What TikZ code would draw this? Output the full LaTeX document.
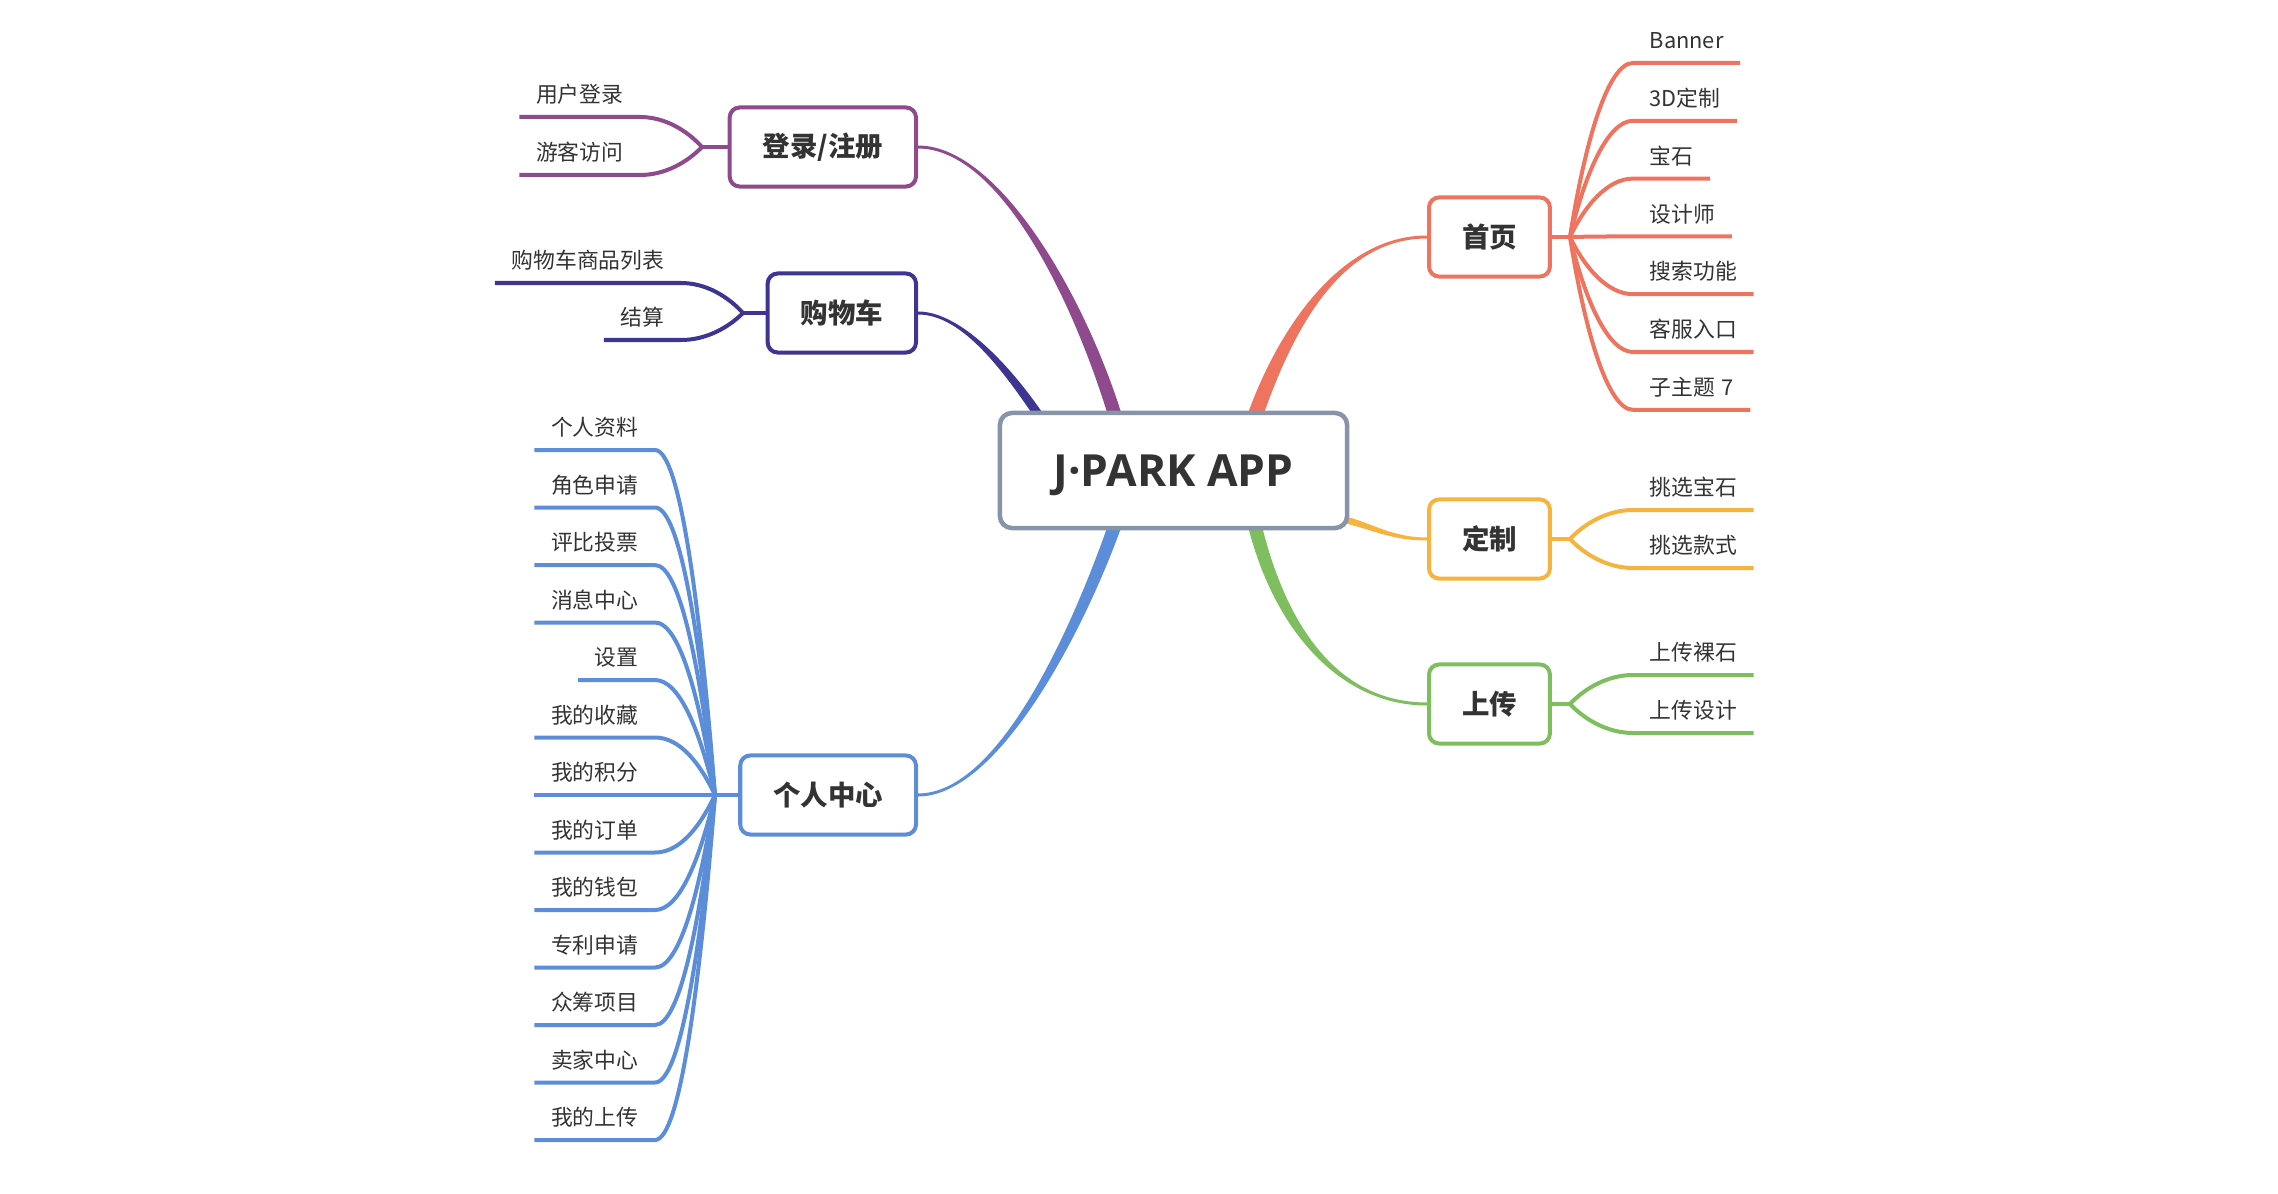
\documentclass[tikz,border=0pt]{standalone}
\usepackage{fontspec}
\setmainfont{Open Sans}
\newfontfamily\cjk{Noto Sans CJK SC}
\usetikzlibrary{calc,backgrounds}
\definecolor{cLogin}{RGB}{142,74,140}
\definecolor{cCart}{RGB}{62,52,146}
\definecolor{cHome}{RGB}{239,116,95}
\definecolor{cCustom}{RGB}{246,179,62}
\definecolor{cUpload}{RGB}{126,190,95}
\definecolor{cUser}{RGB}{92,141,216}
\definecolor{cRoot}{RGB}{135,147,168}
\definecolor{cText}{RGB}{51,51,51}
\tikzset{
  topic/.style={draw, fill=white, line width=0.04cm, rounded corners=0.1cm, inner xsep=0.33cm, minimum height=0.79cm, text=cText, font=\cjk\bfseries\fontsize{7.8pt}{9pt}\selectfont},
  leaf/.style={inner xsep=0.16cm, inner ysep=0.065cm, text height=0.8em, text depth=0.2em, text=cText, font=\cjk\fontsize{6.2pt}{7pt}\selectfont},
  twig/.style={line width=0.04cm}
}
% tapered main branch: colour, start, control 1, control 2, end, start offset, end offset
\newcommand{\mainbranch}[7]{\fill[#1] ($#2+#6$) .. controls ($#3+#6$) and ($#4+#7$) .. ($#5+#7$) -- ($#5-#7$) .. controls ($#4-#7$) and ($#3-#6$) .. ($#2-#6$) -- cycle;}

\begin{document}
\begin{tikzpicture}[x=0.01cm, y=-0.01cm]
\useasboundingbox (0,0) rectangle (2278,1194);

\node[draw=cRoot, fill=white, line width=0.045cm, rounded corners=0.12cm, minimum width=3.47cm, minimum height=1.15cm, text=cText, text depth=0pt, font=\bfseries\fontsize{12.6pt}{15pt}\selectfont] (root) at (1173.5,470.5) {J·PARK APP};

\node[topic, draw=cLogin, anchor=east] (login) at (918,147) {登录/注册};
\node[topic, draw=cCart, anchor=east] (cart) at (918,313) {购物车};
\node[topic, draw=cUser, anchor=east] (user) at (918,795) {个人中心};
\node[topic, draw=cHome, anchor=west] (home) at (1427,237) {首页};
\node[topic, draw=cCustom, anchor=west] (custom) at (1427,539) {定制};
\node[topic, draw=cUpload, anchor=west] (upload) at (1427,704) {上传};

\coordinate (loginfork) at (702,147);
\coordinate (cartfork) at (743,313);
\coordinate (userfork) at (715,795);
\coordinate (homefork) at (1570,237);
\coordinate (customfork) at (1570,539);
\coordinate (uploadfork) at (1570,704);

\draw[twig, cLogin] (login.west) -- (loginfork);
\draw[twig, cCart] (cart.west) -- (cartfork);
\draw[twig, cUser] (user.west) -- (userfork);
\draw[twig, cHome] (home.east) -- (homefork);
\draw[twig, cCustom] (custom.east) -- (customfork);
\draw[twig, cUpload] (upload.east) -- (uploadfork);

\foreach \txt/\ly [count=\i] in {用户登录/117, 游客访问/175}
  {
    \node[leaf, anchor=south east] (login\i) at (640,\ly) {\txt};
    \draw[twig, cLogin] (login\i.south west) -- (login\i.south east) .. controls +(25,0) and +(-15,{0.55*(\ly-147)}) .. (loginfork);
  }

\foreach \txt/\ly [count=\i] in {购物车商品列表/283, 结算/340}
  {
    \node[leaf, anchor=south east] (cart\i) at (681,\ly) {\txt};
    \draw[twig, cCart] (cart\i.south west) -- (cart\i.south east) .. controls +(25,0) and +(-15,{0.55*(\ly-313)}) .. (cartfork);
  }

\foreach \txt [count=\i from 0] in {个人资料, 角色申请, 评比投票, 消息中心, 设置, 我的收藏, 我的积分, 我的订单, 我的钱包, 专利申请, 众筹项目, 卖家中心, 我的上传}
  {
    \pgfmathsetmacro\ly{450+57.5*\i}
    \node[leaf, anchor=south east] (user\i) at (655,\ly) {\txt};
    \draw[twig, cUser] (user\i.south west) -- (user\i.south east) .. controls +(25,0) and +(-15,{0.55*(\ly-795)}) .. (userfork);
  }

\foreach \txt [count=\i from 0] in {Banner, 3D定制, 宝石, 设计师, 搜索功能, 客服入口, 子主题\hspace{0.3em}7}
  {
    \pgfmathsetmacro\ly{63+57.8*\i}
    \node[leaf, anchor=south west] (home\i) at (1633,\ly) {\txt};
    \draw[twig, cHome] (homefork) .. controls +(15,{0.55*(\ly-237)}) and +(-25,0) .. (home\i.south west) -- (home\i.south east);
  }

\foreach \txt/\ly [count=\i] in {挑选宝石/510, 挑选款式/568}
  {
    \node[leaf, anchor=south west] (custom\i) at (1633,\ly) {\txt};
    \draw[twig, cCustom] (customfork) .. controls +(15,{0.55*(\ly-539)}) and +(-25,0) .. (custom\i.south west) -- (custom\i.south east);
  }

\foreach \txt/\ly [count=\i] in {上传裸石/675, 上传设计/733}
  {
    \node[leaf, anchor=south west] (upload\i) at (1633,\ly) {\txt};
    \draw[twig, cUpload] (uploadfork) .. controls +(15,{0.55*(\ly-704)}) and +(-25,0) .. (upload\i.south west) -- (upload\i.south east);
  }

\coordinate (loginend) at ($(root.north)+(-57.5,8)$);
\coordinate (cartend) at ($(root.north)+(-132.5,8)$);
\coordinate (homeend) at ($(root.north)+(80.5,8)$);
\coordinate (customend) at ($(root.east)+(-8,48.5)$);
\coordinate (uploadend) at ($(root.south)+(80.5,-8)$);
\coordinate (userend) at ($(root.south)+(-57.5,-8)$);

\begin{scope}[on background layer]
\mainbranch{cLogin}{(login.east)}{(1000,147)}{(1080,300)}{(loginend)}{(0,-1.5)}{(7,0)}
\mainbranch{cCart}{(cart.east)}{(960,313)}{(1005,365)}{(cartend)}{(0,-1.5)}{(5.5,0)}
\mainbranch{cHome}{(home.west)}{(1340,237)}{(1285,330)}{(homeend)}{(0,-1.5)}{(-8,0)}
\mainbranch{cCustom}{(custom.west)}{(1390,539)}{(1370,525)}{(customend)}{(0,-1.5)}{(0,-3.5)}
\mainbranch{cUpload}{(upload.west)}{(1340,704)}{(1280,630)}{(uploadend)}{(0,1.5)}{(-7,0)}
\mainbranch{cUser}{(user.east)}{(1000,795)}{(1080,625)}{(userend)}{(0,1.5)}{(7,0)}
\end{scope}

\end{tikzpicture}
\end{document}
